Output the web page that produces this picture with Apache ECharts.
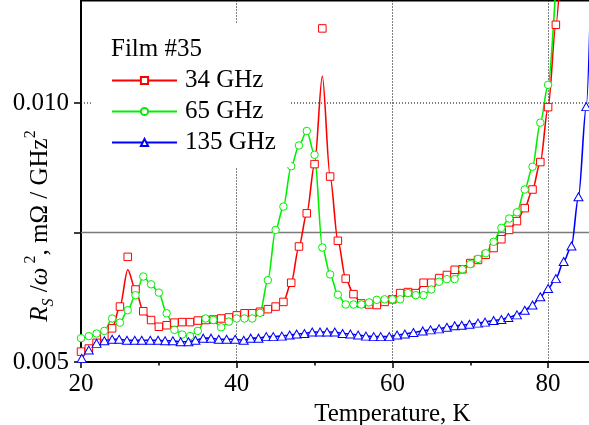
<!DOCTYPE html>
<html><head><meta charset="utf-8">
<script src="https://cdn.jsdelivr.net/npm/echarts@6/dist/echarts.min.js"></script>
<style>html,body{margin:0;padding:0;background:#fff}#c{width:589px;height:425px}</style>
</head><body><div id="c"></div>
<script>
// ---- data ----
const temps34 = [20,21,22,23,24,25,26,27,28,29,30,31,32,33,34,35,36,37,38,39,40,41,42,43,44,45,46,47,48,49,50,51,52,53,54,55,56,57,58,59,60,61,62,63,64,65,66,67,68,69,70,71,72,73,74,75,76,77,78,79,80,81];
const rs34 = [0.00520,0.00526,0.00537,0.00550,0.00565,0.00607,0.00703,0.00640,0.00598,0.00581,0.00568,0.00571,0.00576,0.00577,0.00577,0.00580,0.00581,0.00582,0.00584,0.00586,0.00590,0.00594,0.00594,0.00597,0.00602,0.00607,0.00616,0.00653,0.00723,0.00787,0.00882,0.01144,0.00858,0.00734,0.00661,0.00631,0.00613,0.00611,0.00610,0.00616,0.00621,0.00633,0.00635,0.00633,0.00653,0.00653,0.00662,0.00668,0.00678,0.00679,0.00691,0.00697,0.00707,0.00720,0.00737,0.00755,0.00772,0.00797,0.00833,0.00886,0.00992,0.01151];
// fitted-curve values where the 34 GHz curve departs from the points
const fitT34 = [26, 51];
const fit34 = [0.00678, 0.01052];
const tailT34 = [82];
const tail34 = [0.0138];

const temps65 = [20,21,22,23,24,25,26,27,28,29,30,31,32,33,34,35,36,37,38,39,40,41,42,43,44,45,46,47,48,49,50,51,52,53,54,55,56,57,58,59,60,61,62,63,64,65,66,67,68,69,70,71,72,73,74,75,76,77,78,79,80];
const rs65 = [0.00546,0.00550,0.00555,0.00560,0.00584,0.00576,0.00600,0.00629,0.00665,0.00650,0.00634,0.00594,0.00562,0.00553,0.00550,0.00560,0.00584,0.00581,0.00567,0.00578,0.00584,0.00584,0.00584,0.00595,0.00658,0.00755,0.00800,0.00878,0.00918,0.00946,0.00900,0.00721,0.00669,0.00630,0.00611,0.00611,0.00611,0.00615,0.00620,0.00621,0.00621,0.00621,0.00633,0.00629,0.00629,0.00640,0.00655,0.00660,0.00660,0.00679,0.00689,0.00699,0.00710,0.00732,0.00759,0.00777,0.00789,0.00833,0.00877,0.00962,0.01035];
const tailT65 = [81];
const tail65 = [0.0123];

const temps135 = [20.1,21.0,22.0,23.0,24.0,24.9,25.9,26.9,27.8,28.9,29.9,30.8,31.8,32.8,33.8,34.7,35.7,36.7,37.7,38.7,39.8,40.9,41.8,42.8,43.8,44.7,45.8,46.8,47.7,48.7,49.7,50.7,51.6,52.6,53.6,54.6,55.6,56.6,57.6,58.5,59.6,60.6,61.6,62.7,63.9,64.9,66.0,67.0,68.0,68.9,69.9,71.0,71.9,73.0,74.0,74.9,76.0,77.0,78.0,79.0,80.0,81.0,82.0,83.0,83.9,84.9];
const rs135 = [0.00507,0.00523,0.00536,0.00541,0.00544,0.00544,0.00542,0.00542,0.00542,0.00542,0.00542,0.00541,0.00541,0.00539,0.00539,0.00542,0.00546,0.00546,0.00544,0.00544,0.00544,0.00542,0.00546,0.00546,0.00549,0.00549,0.00550,0.00552,0.00554,0.00555,0.00558,0.00558,0.00558,0.00558,0.00555,0.00554,0.00552,0.00550,0.00549,0.00549,0.00549,0.00552,0.00554,0.00557,0.00560,0.00562,0.00564,0.00567,0.00570,0.00571,0.00573,0.00575,0.00577,0.00580,0.00582,0.00586,0.00591,0.00600,0.00610,0.00626,0.00642,0.00661,0.00694,0.00724,0.00819,0.00993];
const tailT135 = [85.6];
const tail135 = [0.0128];

const xTicks = [20, 40, 60, 80];
const xRange = [20, 100];
const yLabels = {'0.005': '0.005', '0.01': '0.010'};
const refLineY = 0.0075;   // solid grey reference line
const gridLineY = 0.01;    // dotted grid line
const frameTopY = 0.01198; // top frame of the plot
const names = ['34 GHz', '65 GHz', '135 GHz'];
const colors = ['#ff0000', '#00f000', '#0000ff'];
const symbols = ['rect', 'circle', 'triangle'];

// ---- build ----
const pts = (t, v) => t.map((x, i) => [x, v[i]]);
const line34 = temps34.map((t, i) => {
  const j = fitT34.indexOf(t);
  return [t, j >= 0 ? fit34[j] : rs34[i]];
}).concat(pts(tailT34, tail34));
const line65 = pts(temps65, rs65).concat(pts(tailT65, tail65));
const line135 = pts(temps135, rs135).concat(pts(tailT135, tail135));
const lines = [line34, line65, line135];
const marks = [pts(temps34, rs34), pts(temps65, rs65), pts(temps135, rs135)];

const FONT = 'Liberation Serif';
const series = [];
function hline(v, style) {
  return {type: 'line', data: xRange.map(x => [x, v]), silent: true, z: 1,
    showSymbol: false, symbol: 'none', lineStyle: style, emphasis: {disabled: true}};
}
series.push(hline(refLineY, {color: '#7a7a7a', width: 1.6, type: 'solid'}));
series.push(hline(gridLineY, {color: '#000', width: 1, type: [1, 2]}));
series.push(hline(frameTopY, {color: '#000', width: 2, type: 'solid'}));
names.forEach((n, k) => {
  series.push({
    name: n, type: 'line', data: lines[k], smooth: 0.3, smoothMonotone: 'x',
    showSymbol: false, symbol: symbols[k], symbolSize: 8,
    itemStyle: {color: '#fff', borderColor: colors[k], borderWidth: 1},
    lineStyle: {color: colors[k], width: 1.6}, z: 2, silent: true
  });
});
names.forEach((n, k) => {
  series.push({
    name: n, type: 'scatter', data: marks[k], symbol: symbols[k],
    symbolSize: k === 2 ? [9, 8] : 7.5,
    itemStyle: {color: '#fff', borderColor: colors[k], borderWidth: 1, opacity: 1},
    z: 3, silent: true
  });
});

const chart = echarts.init(document.getElementById('c'), null, {renderer: 'canvas'});
chart.setOption({
  animation: false,
  backgroundColor: '#fff',
  grid: {left: 81, right: -114.8, top: -26.5, bottom: 63, containLabel: false, outerBoundsMode: 'none'},
  title: {
    text: 'Film #35', left: 111, top: 37, padding: 0,
    textStyle: {fontFamily: FONT, fontSize: 25, fontWeight: 'normal', color: '#000'}
  },
  legend: {
    data: names, orient: 'vertical', left: 93, top: 23,
    padding: [45, 15, 12, 18], itemGap: 6, itemWidth: 65, itemHeight: 9,
    backgroundColor: '#fff', selectedMode: false,
    textStyle: {fontFamily: FONT, fontSize: 25, color: '#000', padding: [0, 0, 0, 3]}
  },
  xAxis: {
    type: 'value', min: xRange[0], max: xRange[1], interval: 20,
    name: 'Temperature, K', nameLocation: 'middle', nameGap: 25,
    nameTextStyle: {fontFamily: FONT, fontSize: 25, color: '#000'},
    axisLine: {show: true, onZero: false, lineStyle: {color: '#000', width: 2}},
    axisTick: {show: true, inside: false, length: 6, lineStyle: {color: '#000', width: 1.5}},
    minorTick: {show: true, splitNumber: 2, length: 3.5, lineStyle: {color: '#000', width: 1.5}},
    axisLabel: {margin: 10, fontFamily: FONT, fontSize: 25, color: '#000',
      formatter: v => xTicks.indexOf(v) >= 0 ? String(v) : ''},
    splitLine: {show: true, lineStyle: {color: '#000', width: 1, type: [1, 2]}},
    minorSplitLine: {show: false}
  },
  yAxis: {
    type: 'value', min: 0.005, max: 0.0125, interval: 0.0025,
    axisLine: {show: true, onZero: false, lineStyle: {color: '#000', width: 2}},
    axisTick: {show: true, inside: false, length: 7, lineStyle: {color: '#000', width: 1.5}},
    axisLabel: {margin: 12, fontFamily: FONT, fontSize: 25, color: '#000',
      formatter: v => yLabels[String(Math.round(v * 10000) / 10000)] || ''},
    splitLine: {show: false}
  },
  graphic: [{
    type: 'text', x: 40, y: 226, rotation: Math.PI / 2, silent: true,
    style: {
      text: '{i|R}{sub|S}{n| /}{i|ω}{sup| 2}{n|, mΩ / GHz}{sup|2}',
      align: 'center', verticalAlign: 'middle',
      fontFamily: FONT, fontSize: 25, fill: '#000',
      rich: {
        n: {fontFamily: FONT, fontSize: 25, lineHeight: 34, verticalAlign: 'middle'},
        i: {fontFamily: FONT, fontSize: 25, fontStyle: 'italic', lineHeight: 34, verticalAlign: 'middle'},
        sub: {fontFamily: FONT, fontSize: 16, fontStyle: 'italic', lineHeight: 16, verticalAlign: 'bottom'},
        sup: {fontFamily: FONT, fontSize: 16, lineHeight: 16, verticalAlign: 'top'}
      }
    }
  }],
  series: series
});
</script>
</body></html>
